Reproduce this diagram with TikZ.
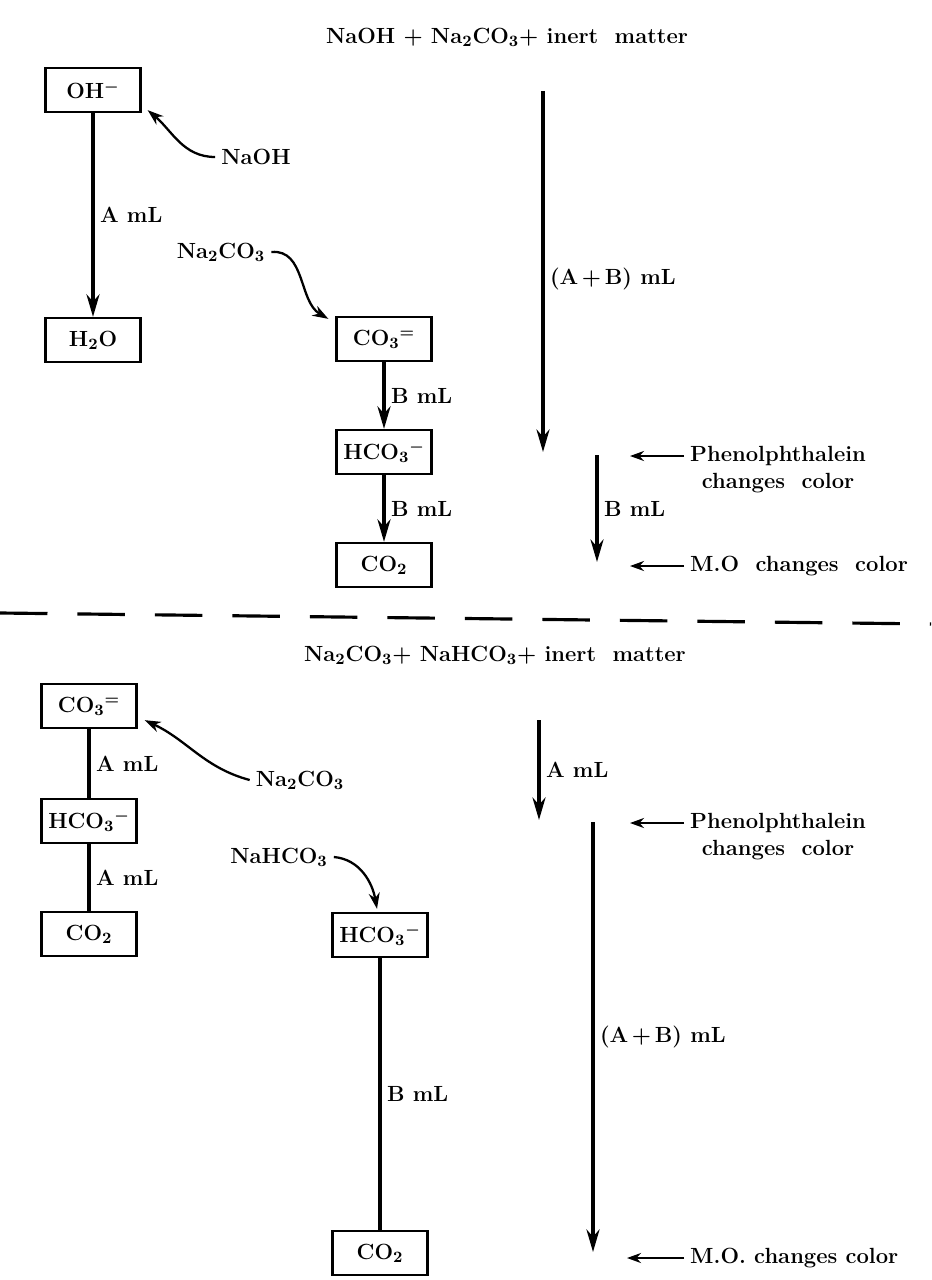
\documentclass[tikz,border=0pt]{standalone}
\usepackage{tikz}
\usetikzlibrary{arrows.meta,positioning}

\begin{document}
\begin{tikzpicture}[x=0.02cm,y=-0.02cm,
		every node/.style={font=\bfseries\boldmath\fontsize{12.5}{14}\selectfont},
		ion/.style={draw,line width=1.3pt,minimum width=1.9cm,minimum height=0.88cm,inner sep=2pt},
		lbl/.style={right,inner sep=3pt},
		flow/.style={line width=2pt,-{Stealth[length=4.5mm,width=2.6mm]}},
		link/.style={line width=2pt},
		feed/.style={line width=1.3pt,-{Stealth[length=3.2mm,width=2.2mm]}},
		ptr/.style={line width=1.5pt,-{Stealth[length=2.8mm,width=2mm]}},
		]
		\useasboundingbox (0,0) rectangle (931,1280);

		% NaOH + Na2CO3
		\node (t1) at (507,37) {NaOH + Na$_2$CO$_3$+ inert\ \ matter};
		\node[ion] (oh) at (93,90) {OH$^-$};
		\node[ion] (wat) at (93,340) {H$_2$O};
		\node (naoh) at (256,157) {NaOH};
		\node (soda) at (221,252) {Na$_2$CO$_3$};
		\node[ion] (carb) at (384,339) {CO$_3{}^=$};
		\node[ion] (bic) at (384,452) {HCO$_3{}^-$};
		\node[ion] (dio) at (384,565) {CO$_2$};

		\draw[flow] (oh) -- node[lbl]{A mL} (wat);
		\draw[feed] (naoh.west) to[out=180,in=-40] ([shift={(6,-3)}]oh.south east);
		\draw[feed] (soda.east) to[out=5,in=150] ([shift={(-7,3)}]carb.north west);
		\draw[flow] (carb) -- node[lbl]{B mL} (bic);
		\draw[flow] (bic) -- node[lbl]{B mL} (dio);

		\coordinate (s1) at (543,91);
		\coordinate (e1) at (543,452);
		\coordinate (s2) at (597,455);
		\coordinate (e2) at (597,562);
		\draw[flow] (s1) -- node[lbl,pos=0.52]{(A\,+\,B) mL} (e1);
		\draw[flow] (s2) -- node[lbl]{B mL} (e2);

		\node[anchor=west] (ph1) at (684,456) {Phenolphthalein};
		\node[below=-3pt of ph1] (ph2) {changes\ \ color};
		\node[anchor=west] (mo1) at (684,566) {M.O\ \ changes\ \ color};
		\coordinate (q1) at (630,456);
		\coordinate (q2) at (630,566);
		\draw[ptr] (ph1.west) -- (q1);
		\draw[ptr] (mo1.west) -- (q2);

		\coordinate (d1) at (0,613);
		\coordinate (d2) at (931,624);
		\draw[line width=1.8pt,dash pattern=on 0.95cm off 0.6cm] (d1) -- (d2);

		% Na2CO3 + NaHCO3
		\node (t2) at (495,655) {Na$_2$CO$_3$+ NaHCO$_3$+ inert\ \ matter};
		\node[ion] (carb2) at (89,706) {CO$_3{}^=$};
		\node[ion] (bic2) at (89,821) {HCO$_3{}^-$};
		\node[ion] (dio2) at (89,934) {CO$_2$};
		\node (soda2) at (300,780) {Na$_2$CO$_3$};
		\node (bica) at (279,857) {NaHCO$_3$};
		\node[ion] (bic3) at (380,935) {HCO$_3{}^-$};
		\node[ion] (dio3) at (380,1253) {CO$_2$};

		\draw[link] (carb2) -- node[lbl]{A mL} (bic2);
		\draw[link] (bic2) -- node[lbl]{A mL} (dio2);
		\draw[feed] (soda2.west) to[out=165,in=-25] ([shift={(7,-9)}]carb2.south east);
		\draw[feed] (bica.east) to[out=-5,in=100] ([shift={(-3,-3)}]bic3.north);
		\draw[link] (bic3) -- node[lbl]{B mL} (dio3);

		\coordinate (s3) at (539,720);
		\coordinate (e3) at (539,820);
		\coordinate (s4) at (593,822);
		\coordinate (e4) at (593,1252);
		\draw[flow] (s3) -- node[lbl]{A mL} (e3);
		\draw[flow] (s4) -- node[lbl]{(A\,+\,B) mL} (e4);

		\node[anchor=west] (ph3) at (684,823) {Phenolphthalein};
		\node[below=-3pt of ph3] (ph4) {changes\ \ color};
		\node[anchor=west] (mo2) at (684,1258) {M.O.\ changes\ color};
		\coordinate (q3) at (630,823);
		\coordinate (q4) at (627,1258);
		\draw[ptr] (ph3.west) -- (q3);
		\draw[ptr] (mo2.west) -- (q4);
\end{tikzpicture}
\end{document}
